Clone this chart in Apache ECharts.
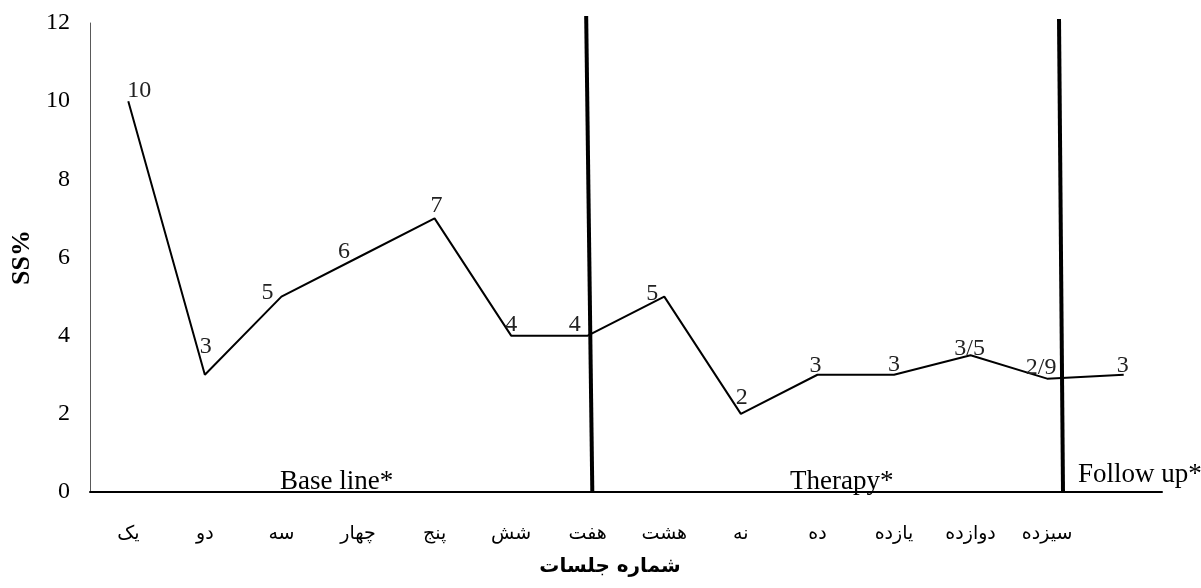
<!DOCTYPE html>
<html>
<head>
<meta charset="utf-8">
<script src="https://cdn.jsdelivr.net/npm/echarts@6/dist/echarts.min.js"></script>
<style>
html,body{margin:0;padding:0;background:#fff;}
#chart{width:1201px;height:588px;}
</style>
</head>
<body>
<div id="chart"></div>
<script>
// ---- data ----
const sessions = ['یک','دو','سه','چهار','پنج','شش','هفت','هشت','نه','ده','یازده','دوازده','سیزده',''];
const ssPercent = [10, 3, 5, 6, 7, 4, 4, 5, 2, 3, 3, 3.5, 2.9, 3];
const valueLabels = ['10','3','5','6','7','4','4','5','2','3','3','3/5','2/9','3'];
const yMin = 0, yMax = 12, yStep = 2;
const xAxisTitle = 'شماره جلسات';
const yAxisTitle = 'SS%';
const phaseNames = ['Base line*', 'Therapy*', 'Follow up*'];
// phase divider lines (in session units on a continuous axis 0..14, value units on y)
const divider1 = [[6.48, 12.18], [6.56, 0]];
const divider2 = [[12.655, 12.10], [12.707, 0]];

// ---- label nudges (style only) ----
const labelNudge = [[11,2],[1,-16],[-14,8],[-14,6],[2,-1],[0,1],[-13,1],[-12,9],[1,-4],[-2,3],[0,2],[-1,5],[-6,1],[-1,3]];

const serif = 'Liberation Serif';
const arabic = 'DejaVu Sans';

const chart = echarts.init(document.getElementById('chart'), null, {renderer: 'canvas'});

const lineData = ssPercent.map((v, i) => ({
  value: v,
  label: { offset: labelNudge[i] }
}));

chart.setOption({
  animation: false,
  backgroundColor: '#fff',
  grid: { left: 90, right: 39, top: 23, bottom: 96, containLabel: false, outerBoundsMode: 'none' },
  xAxis: [
    {
      type: 'category',
      data: sessions,
      boundaryGap: true,
      axisLine: { show: true, lineStyle: { color: '#000', width: 2 } },
      axisTick: { show: false },
      axisLabel: { color: '#000', fontFamily: arabic, fontSize: 19, margin: 33, interval: 0 },
      splitLine: { show: false },
      name: xAxisTitle,
      nameLocation: 'middle',
      nameGap: 65,
      nameTextStyle: { color: '#000', fontFamily: arabic, fontWeight: 'bold', fontSize: 20, padding: [0, 32, 0, 0] }
    },
    {
      type: 'value',
      min: 0, max: 14,
      show: false,
      position: 'bottom'
    }
  ],
  yAxis: {
    type: 'value',
    min: yMin, max: yMax, interval: yStep,
    axisLine: { show: true, lineStyle: { color: '#595959', width: 1 } },
    axisTick: { show: false },
    splitLine: { show: false },
    axisLabel: { color: '#000', fontFamily: serif, fontSize: 24, margin: 20 },
    name: yAxisTitle,
    nameLocation: 'middle',
    nameGap: 54,
    nameTextStyle: { color: '#000', fontFamily: serif, fontWeight: 'bold', fontSize: 26 }
  },
  series: [
    {
      type: 'line',
      xAxisIndex: 0,
      data: lineData,
      symbol: 'circle',
      symbolSize: 0,
      showSymbol: true,
      lineStyle: { color: '#000', width: 2 },
      itemStyle: { color: '#000' },
      label: {
        show: true,
        position: 'top',
        distance: 0,
        color: '#222',
        fontFamily: serif,
        fontSize: 24,
        formatter: p => valueLabels[p.dataIndex]
      }
    },
    {
      type: 'line',
      xAxisIndex: 1,
      data: divider1,
      symbol: 'none',
      clip: false,
      lineStyle: { color: '#000', width: 4 },
      z: 5
    },
    {
      type: 'line',
      xAxisIndex: 1,
      data: divider2,
      symbol: 'none',
      clip: false,
      lineStyle: { color: '#000', width: 4 },
      z: 5
    }
  ],
  graphic: [
    { type: 'text', left: 280, top: 468, style: { text: phaseNames[0], fill: '#000', font: '27px ' + serif } },
    { type: 'text', left: 790, top: 468, style: { text: phaseNames[1], fill: '#000', font: '27px ' + serif } },
    { type: 'text', left: 1078, top: 461, style: { text: phaseNames[2], fill: '#000', font: '27px ' + serif } }
  ]
});
</script>
</body>
</html>
